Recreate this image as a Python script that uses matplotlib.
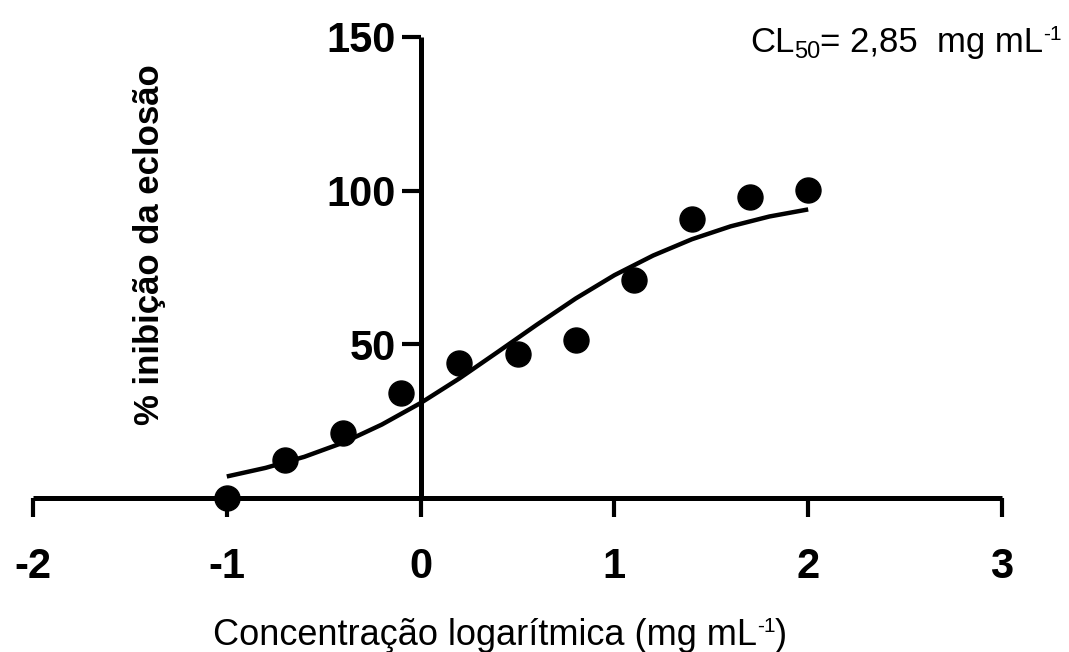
import matplotlib
matplotlib.use("Agg")
import matplotlib.pyplot as plt

# Data
log_conc = [-1.0, -0.7, -0.4, -0.1, 0.2, 0.5, 0.8, 1.1, 1.4, 1.7, 2.0]
inhibition = [0.0, 12.3, 21.2, 34.1, 44.0, 46.9, 51.3, 70.8, 90.9, 98.1, 100.3]

curve_x = [-1.0, -0.8, -0.6, -0.4, -0.2, 0.0, 0.2, 0.4, 0.6, 0.8, 1.0,
           1.2, 1.4, 1.6, 1.8, 2.0]
curve_y = [7.0, 9.8, 13.4, 18.0, 23.9, 30.9, 38.9, 47.6, 56.4, 64.9, 72.5,
           78.9, 84.2, 88.4, 91.6, 93.9]

x_ticks = [-2, -1, 0, 1, 2, 3]
y_ticks = [50, 100, 150]

plt.rcParams['font.family'] = ['Liberation Sans', 'DejaVu Sans']
plt.rcParams['axes.unicode_minus'] = False

W, H = 1069, 652
fig = plt.figure(figsize=(W / 100, H / 100), dpi=100)
left, right = 33 / W, 1002 / W
bottom, top = (H - 498) / H, (H - 37) / H
ax = fig.add_axes([left, bottom, right - left, top - bottom])

ax.plot(curve_x, curve_y, color='black', lw=3.2, solid_capstyle='butt')
ax.plot(log_conc, inhibition, 'o', color='black', ms=18, clip_on=False, zorder=5)

ax.set_xlim(-2, 3)
ax.set_ylim(0, 150)
ax.spines['left'].set_position(('data', 0))
ax.spines['bottom'].set_position(('data', 0))
ax.spines['top'].set_visible(False)
ax.spines['right'].set_visible(False)
for s in ('left', 'bottom'):
    ax.spines[s].set_linewidth(3.6)
    ax.spines[s].set_capstyle('butt')

ax.set_xticks(x_ticks)
ax.set_yticks(y_ticks)
ax.tick_params(axis='x', direction='out', length=14, width=3, pad=21,
               labelsize=30)
ax.tick_params(axis='y', direction='out', length=14, width=3, pad=4,
               labelsize=30)
for lab in ax.get_xticklabels() + ax.get_yticklabels():
    lab.set_fontweight('bold')

fig.text(150 / W, 1 - 245 / H, '% inibição da eclosão', rotation=90,
         ha='center', va='center', fontsize=25, fontweight='bold')

renderer = fig.canvas.get_renderer()


def rich_text(x_px, y_px, parts, anchor='left'):
    """parts: list of (text, fontsize, dy_px). y_px is baseline from top."""
    widths = []
    for txt, fs, dy in parts:
        t = fig.text(0, 0, txt, fontsize=fs)
        widths.append(t.get_window_extent(renderer).width)
        t.remove()
    total = sum(widths)
    if anchor == 'center':
        x0 = x_px - total / 2
    elif anchor == 'right':
        x0 = x_px - total
    else:
        x0 = x_px
    for (txt, fs, dy), w in zip(parts, widths):
        fig.text(x0 / W, 1 - (y_px - dy) / H, txt, fontsize=fs,
                 ha='left', va='baseline')
        x0 += w


rich_text(500, 645, [('Concentração logarítmica (mg mL', 26, 0),
                     ('-1', 15, 13), (')', 26, 0)], anchor='center')
rich_text(1062, 52, [('CL', 25, 0), ('50', 17, -6),
                     ('= 2,85  mg mL', 25, 0), ('-1', 15, 12)], anchor='right')

fig.savefig('out.png', dpi=100)
